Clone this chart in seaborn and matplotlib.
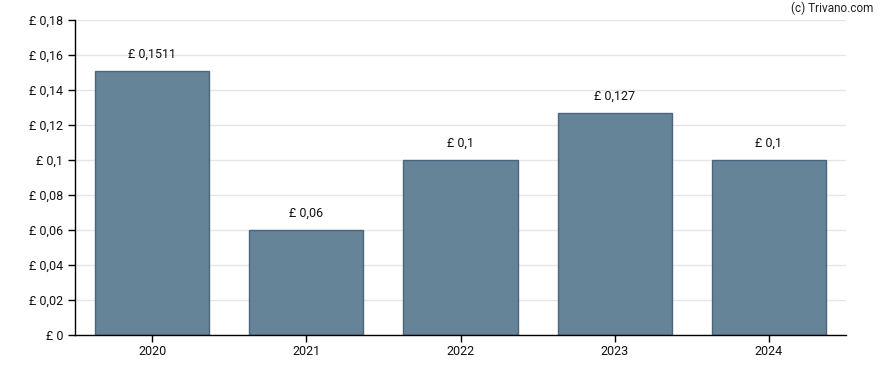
import matplotlib
matplotlib.use("Agg")
import matplotlib.pyplot as plt
import seaborn as sns
import pandas as pd
from matplotlib.ticker import FuncFormatter

years = ["2020", "2021", "2022", "2023", "2024"]
dividends = [0.1511, 0.06, 0.1, 0.127, 0.1]
bar_labels = ["£ 0,1511", "£ 0,06", "£ 0,1", "£ 0,127", "£ 0,1"]

df = pd.DataFrame({"year": years, "dividend": dividends})

sns.set_style("white")
plt.rcParams["font.family"] = ["Roboto", "DejaVu Sans"]
plt.rcParams["font.size"] = 9

fig = plt.figure(figsize=(8.88, 3.70), dpi=100)
ax = fig.add_axes([75 / 888, 35 / 370, 771 / 888, 315 / 370])

sns.barplot(data=df, x="year", y="dividend", color="#5e7d93", saturation=1,
            alpha=0.95, edgecolor="#46607a", linewidth=1, width=0.74, ax=ax)

ax.set_ylim(0, 0.18)
ax.set_yticks([i * 0.02 for i in range(10)])

def fmt(v, pos):
    s = f"{v:.2f}".rstrip("0").rstrip(".")
    return "£ " + s.replace(".", ",")

ax.yaxis.set_major_formatter(FuncFormatter(fmt))
ax.grid(axis="y", color="#e6e6e6", linewidth=1)
ax.set_axisbelow(True)

for i, (v, lab) in enumerate(zip(dividends, bar_labels)):
    ax.annotate(lab, (i, v), xytext=(0, 12), textcoords="offset points",
                ha="center", va="center", fontsize=9, color="#111111")

for s in ["top", "right"]:
    ax.spines[s].set_visible(False)
for s in ["left", "bottom"]:
    ax.spines[s].set_color("black")
    ax.spines[s].set_linewidth(1)

ax.tick_params(axis="both", direction="out", length=5, width=1, color="black",
               labelsize=9, labelcolor="#111111", left=True, bottom=True)
ax.tick_params(axis="x", pad=2.5)
ax.set_xlabel("")
ax.set_ylabel("")

fig.text(873 / 888, 1 - 8 / 370, "(c) Trivano.com", ha="right", va="center",
         fontsize=8.5, color="#222222")

fig.savefig("out.png", dpi=100)
